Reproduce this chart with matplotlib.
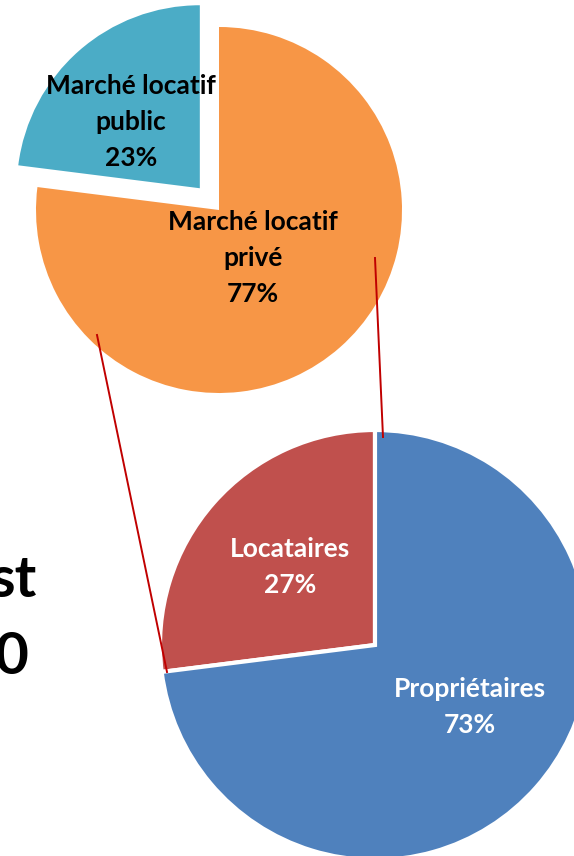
import matplotlib
matplotlib.use("Agg")
import matplotlib.pyplot as plt

# Data
top_labels = ["Marché locatif\npublic", "Marché locatif\nprivé"]
top_values = [23, 77]
top_colors = ["#4BACC6", "#F79646"]

bottom_labels = ["Locataires", "Propriétaires"]
bottom_values = [27, 73]
bottom_colors = ["#C0504D", "#4F81BD"]

W, H = 574, 856
fig = plt.figure(figsize=(W / 100, H / 100), dpi=100)
ax = fig.add_axes([0, 0, 1, 1])

FONT = "Lato"

# Top pie (px coords, y up)
top_center = (219, H - 210)
top_r = 183
ax.pie(top_values, colors=top_colors, startangle=90, counterclock=True,
       center=top_center, radius=top_r, explode=[29, 0],
       wedgeprops=dict(linewidth=0))

# Bottom pie
bot_center = (375, H - 645)
bot_r = 215
ax.pie(bottom_values, colors=bottom_colors, startangle=90, counterclock=True,
       center=bot_center, radius=bot_r,
       wedgeprops=dict(edgecolor="white", linewidth=3))

# Connector lines
ax.plot([97, 167], [H - 335, H - 672], color="#C00000", lw=1.4, zorder=5)
ax.plot([375, 383], [H - 258, H - 437], color="#C00000", lw=1.4, zorder=5)

# Labels
fs = 19
ls = 1.58
ax.text(131, H - 122, f"{top_labels[0]}\n{top_values[0]}%", ha="center", va="center",
        fontsize=fs, fontweight="bold", family=FONT, color="black", linespacing=ls, zorder=6)
ax.text(253, H - 258, f"{top_labels[1]}\n{top_values[1]}%", ha="center", va="center",
        fontsize=fs, fontweight="bold", family=FONT, color="black", linespacing=ls, zorder=6)
ax.text(290, H - 567, f"{bottom_labels[0]}\n{bottom_values[0]}%", ha="center", va="center",
        fontsize=fs, fontweight="bold", family=FONT, color="white", linespacing=ls, zorder=6)
ax.text(470, H - 707, f"{bottom_labels[1]}\n{bottom_values[1]}%", ha="center", va="center",
        fontsize=fs, fontweight="bold", family=FONT, color="white", linespacing=ls, zorder=6)

# Partially visible title fragments at left edge
ax.text(37, H - 597, "st", ha="right", va="baseline", fontsize=42,
        fontweight="bold", family=FONT, color="black")
ax.text(28, H - 674, "0", ha="right", va="baseline", fontsize=42,
        fontweight="bold", family=FONT, color="black")

ax.set_xlim(0, W)
ax.set_ylim(0, H)
ax.set_aspect("auto")
ax.axis("off")
fig.savefig("out.png", dpi=100)
